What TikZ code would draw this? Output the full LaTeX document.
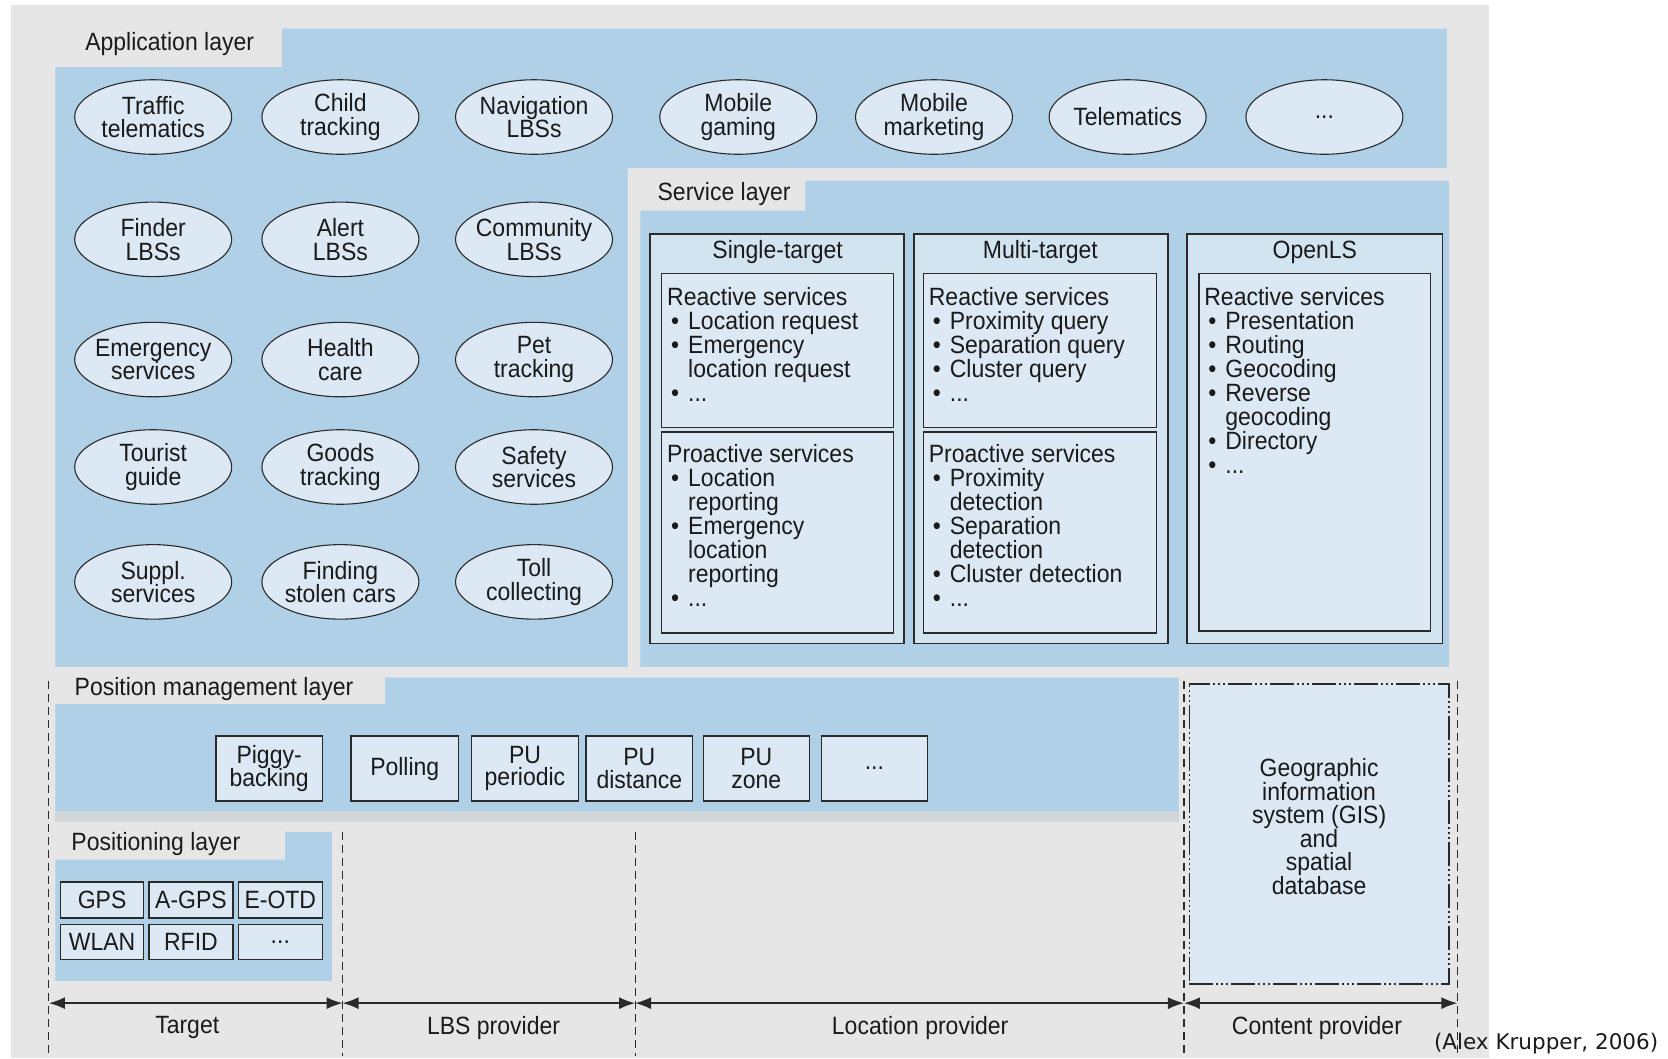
\documentclass[tikz,border=0pt]{standalone}
\usepackage{fontspec}
\setmainfont[FakeStretch=0.92]{Liberation Sans}
\newfontfamily\attrfont{DejaVu Sans}
\usetikzlibrary{arrows.meta,shapes.geometric,fit}
\definecolor{bg}{HTML}{E6E6E6}
\definecolor{layer}{HTML}{AFD0E6}
\definecolor{lite}{HTML}{DCE9F4}
\definecolor{outerbox}{HTML}{D3E4F1}
\definecolor{shadowgray}{HTML}{D3D6D9}
\definecolor{ink}{HTML}{2A2A2A}
\definecolor{txt}{HTML}{1A1A1A}
\newcommand\mainfs{\fontsize{25}{23.6}\selectfont\lineskiplimit=-20pt\relax}
\newcommand\listfs{\fontsize{25}{24}\selectfont\lineskiplimit=-20pt\relax}
\newcommand\boxfs{\fontsize{25}{22.5}\selectfont\lineskiplimit=-20pt\relax}
\newcommand\bul{\hspace*{4pt}\makebox[17pt][l]{\textbullet}}
\newcommand\ind{\hspace*{21pt}}
\tikzset{
  ell/.style={ellipse, draw=ink, line width=1.1pt, fill=lite, minimum width=157pt, minimum height=74.5pt, inner sep=0pt},
  elltext/.style={inner sep=0pt, align=center, font=\mainfs, text=txt},
  obox/.style={draw=ink, line width=1.5pt, fill=outerbox, inner sep=0pt},
  ibox/.style={draw=ink, line width=1.4pt, fill=lite, inner sep=0pt},
  sbox/.style={draw=ink, line width=1.3pt, fill=lite, inner sep=0pt},
  sboxtext/.style={inner sep=0pt, align=center, font=\boxfs, text=txt},
  lbl/.style={inner sep=0pt, font=\mainfs, text=txt},
  listtxt/.style={anchor=north west, inner sep=0pt, align=left, font=\listfs, text=txt},
  divider/.style={draw=ink, line width=1.1pt, dash pattern=on 8pt off 5pt},
  spanarrow/.style={draw=ink, line width=1.6pt, {Latex[length=16pt,width=12pt]}-{Latex[length=16pt,width=12pt]}},
  gisbox/.style={draw=ink, line width=1.3pt, fill=lite, inner sep=0pt, dash pattern=on 24pt off 3pt on 2pt off 3pt on 2pt off 3pt on 2pt off 3pt}
}
\newcommand\ellnode[3]{\node (#1) [ell] at #2 {}; \node (#1t) [elltext] at (#1.center) {#3};}
\newcommand\sboxnode[4]{\node (#1) [sbox, fit={#2 #3}] {}; \node (#1t) [sboxtext] at (#1.center) {#4};}
\begin{document}
\begin{tikzpicture}[x=1.0638pt,y=-1.0638pt]
\useasboundingbox (0,0) rectangle (1568,995);
\fill[white] (0,0) rectangle (1568,995);
\fill[bg] (10,5) rectangle (1400,995);

% layers
\fill[layer] (52,63) -- (265,63) -- (265,27) -- (1360,27) -- (1360,158) -- (590,158) -- (590,627) -- (52,627) -- cycle;
\fill[layer] (602,198) -- (757,198) -- (757,170) -- (1362,170) -- (1362,627) -- (602,627) -- cycle;
\fill[layer] (52,662) -- (362,662) -- (362,637) -- (1108,637) -- (1108,763) -- (52,763) -- cycle;
\fill[shadowgray] (52,763) rectangle (1108,773);
\fill[layer] (52,808) -- (268,808) -- (268,782) -- (312,782) -- (312,922) -- (52,922) -- cycle;

% layer labels
\node (lapp) [lbl, anchor=west] at (80,41) {Application layer};
\node (lsrv) [lbl, anchor=west] at (618,182) {Service layer};
\node (lpm)  [lbl, anchor=west] at (70,648) {Position management layer};
\node (lpos) [lbl, anchor=west] at (67,793) {Positioning layer};

% application ellipses
\ellnode{e11}{(144,110)}{Traffic\\telematics}
\ellnode{e12}{(320,110)}{Child\\tracking}
\ellnode{e13}{(502,110)}{Navigation\\LBSs}
\ellnode{e14}{(694,110)}{Mobile\\gaming}
\ellnode{e15}{(878,110)}{Mobile\\marketing}
\ellnode{e16}{(1060,110)}{Telematics}
\ellnode{e17}{(1245,110)}{...}
\ellnode{e21}{(144,225)}{Finder\\LBSs}
\ellnode{e22}{(320,225)}{Alert\\LBSs}
\ellnode{e23}{(502,225)}{Community\\LBSs}
\ellnode{e31}{(144,338)}{Emergency\\services}
\ellnode{e32}{(320,338)}{Health\\care}
\ellnode{e33}{(502,338)}{Pet\\tracking}
\ellnode{e41}{(144,439)}{Tourist\\guide}
\ellnode{e42}{(320,439)}{Goods\\tracking}
\ellnode{e43}{(502,439)}{Safety\\services}
\ellnode{e51}{(144,547)}{Suppl.\\services}
\ellnode{e52}{(320,547)}{Finding\\stolen cars}
\ellnode{e53}{(502,547)}{Toll\\collecting}

% service layer boxes
\node (st) [obox, fit={(611,220) (850,605)}] {};
\node (mt) [obox, fit={(859,220) (1098,605)}] {};
\node (ol) [obox, fit={(1116,220) (1356,605)}] {};
\node (stt) [lbl] at (731,237) {Single-target};
\node (mtt) [lbl] at (978,237) {Multi-target};
\node (olt) [lbl] at (1236,237) {OpenLS};

\node (sr) [ibox, fit={(622,257) (840,402)}] {};
\node (sp) [ibox, fit={(622,406) (840,595)}] {};
\node (mr) [ibox, fit={(868,257) (1087,402)}] {};
\node (mp) [ibox, fit={(868,406) (1087,595)}] {};
\node (orr) [ibox, fit={(1127,257) (1345,593)}] {};

\node (srt) [listtxt] at ([xshift=6pt,yshift=-14pt]sr.north west)
 {Reactive services\\ \bul Location request\\ \bul Emergency\\ \ind location request\\ \bul ...};
\node (spt) [listtxt] at ([xshift=6pt,yshift=-13pt]sp.north west)
 {Proactive services\\ \bul Location\\ \ind reporting\\ \bul Emergency\\ \ind location\\ \ind reporting\\ \bul ...};
\node (mrt) [listtxt] at ([xshift=6pt,yshift=-14pt]mr.north west)
 {Reactive services\\ \bul Proximity query\\ \bul Separation query\\ \bul Cluster query\\ \bul ...};
\node (mpt) [listtxt] at ([xshift=6pt,yshift=-13pt]mp.north west)
 {Proactive services\\ \bul Proximity\\ \ind detection\\ \bul Separation\\ \ind detection\\ \bul Cluster detection\\ \bul ...};
\node (ort) [listtxt] at ([xshift=6pt,yshift=-14pt]orr.north west)
 {Reactive services\\ \bul Presentation\\ \bul Routing\\ \bul Geocoding\\ \bul Reverse\\ \ind geocoding\\ \bul Directory\\ \bul ...};

% position management boxes
\sboxnode{pm1}{(203,692)}{(303,753)}{Piggy-\\backing}
\sboxnode{pm2}{(330,692)}{(431,753)}{Polling}
\sboxnode{pm3}{(443,692)}{(544,753)}{PU\\periodic}
\sboxnode{pm4}{(551,692)}{(651,753)}{PU\\distance}
\sboxnode{pm5}{(661,692)}{(761,753)}{PU\\zone}
\sboxnode{pm6}{(772,692)}{(872,753)}{...}

% positioning boxes
\sboxnode{p11}{(57,829)}{(135,863)}{GPS}
\sboxnode{p12}{(140,829)}{(219,863)}{A-GPS}
\sboxnode{p13}{(224,829)}{(303,863)}{E-OTD}
\sboxnode{p21}{(57,869)}{(135,902)}{WLAN}
\sboxnode{p22}{(140,869)}{(219,902)}{RFID}
\sboxnode{p23}{(224,869)}{(303,902)}{...}

% GIS
\node (gis) [gisbox, fit={(1118,643) (1362,925)}] {};
\node (gist) [lbl, align=center] at (1240,777) {Geographic\\information\\system (GIS)\\and\\spatial\\database};

% dividers
\coordinate (d0t) at (46,640);  \coordinate (d0b) at (46,993);
\coordinate (d1t) at (322,782); \coordinate (d1b) at (322,993);
\coordinate (d2t) at (597,782); \coordinate (d2b) at (597,993);
\coordinate (d3t) at (1113,640);\coordinate (d3b) at (1113,993);
\coordinate (d4t) at (1370,640);\coordinate (d4b) at (1370,993);
\draw[divider] (d0t) -- (d0b);
\draw[divider] (d1t) -- (d1b);
\draw[divider] (d2t) -- (d2b);
\draw[divider] (d3t) -- (d3b);
\draw[divider] (d4t) -- (d4b);

\coordinate (a0) at (46,943);
\coordinate (a1) at (322,943);
\coordinate (a2) at (597,943);
\coordinate (a3) at (1113,943);
\coordinate (a4) at (1370,943);
\draw[spanarrow] (a0) -- (a1);
\draw[spanarrow] (a1) -- (a2);
\draw[spanarrow] (a2) -- (a3);
\draw[spanarrow] (a3) -- (a4);

\node (ltg) [lbl] at (176,966) {Target};
\node (llbs) [lbl] at (464,966) {LBS provider};
\node (lloc) [lbl] at (865,966) {Location provider};
\node (lcon) [lbl] at (1238,966) {Content provider};

\node (attr) [inner sep=0pt, anchor=east, font=\attrfont\fontsize{21.5}{24}\selectfont, text=txt] at (1559,981) {(Alex Krupper, 2006)};
\end{tikzpicture}
\end{document}
